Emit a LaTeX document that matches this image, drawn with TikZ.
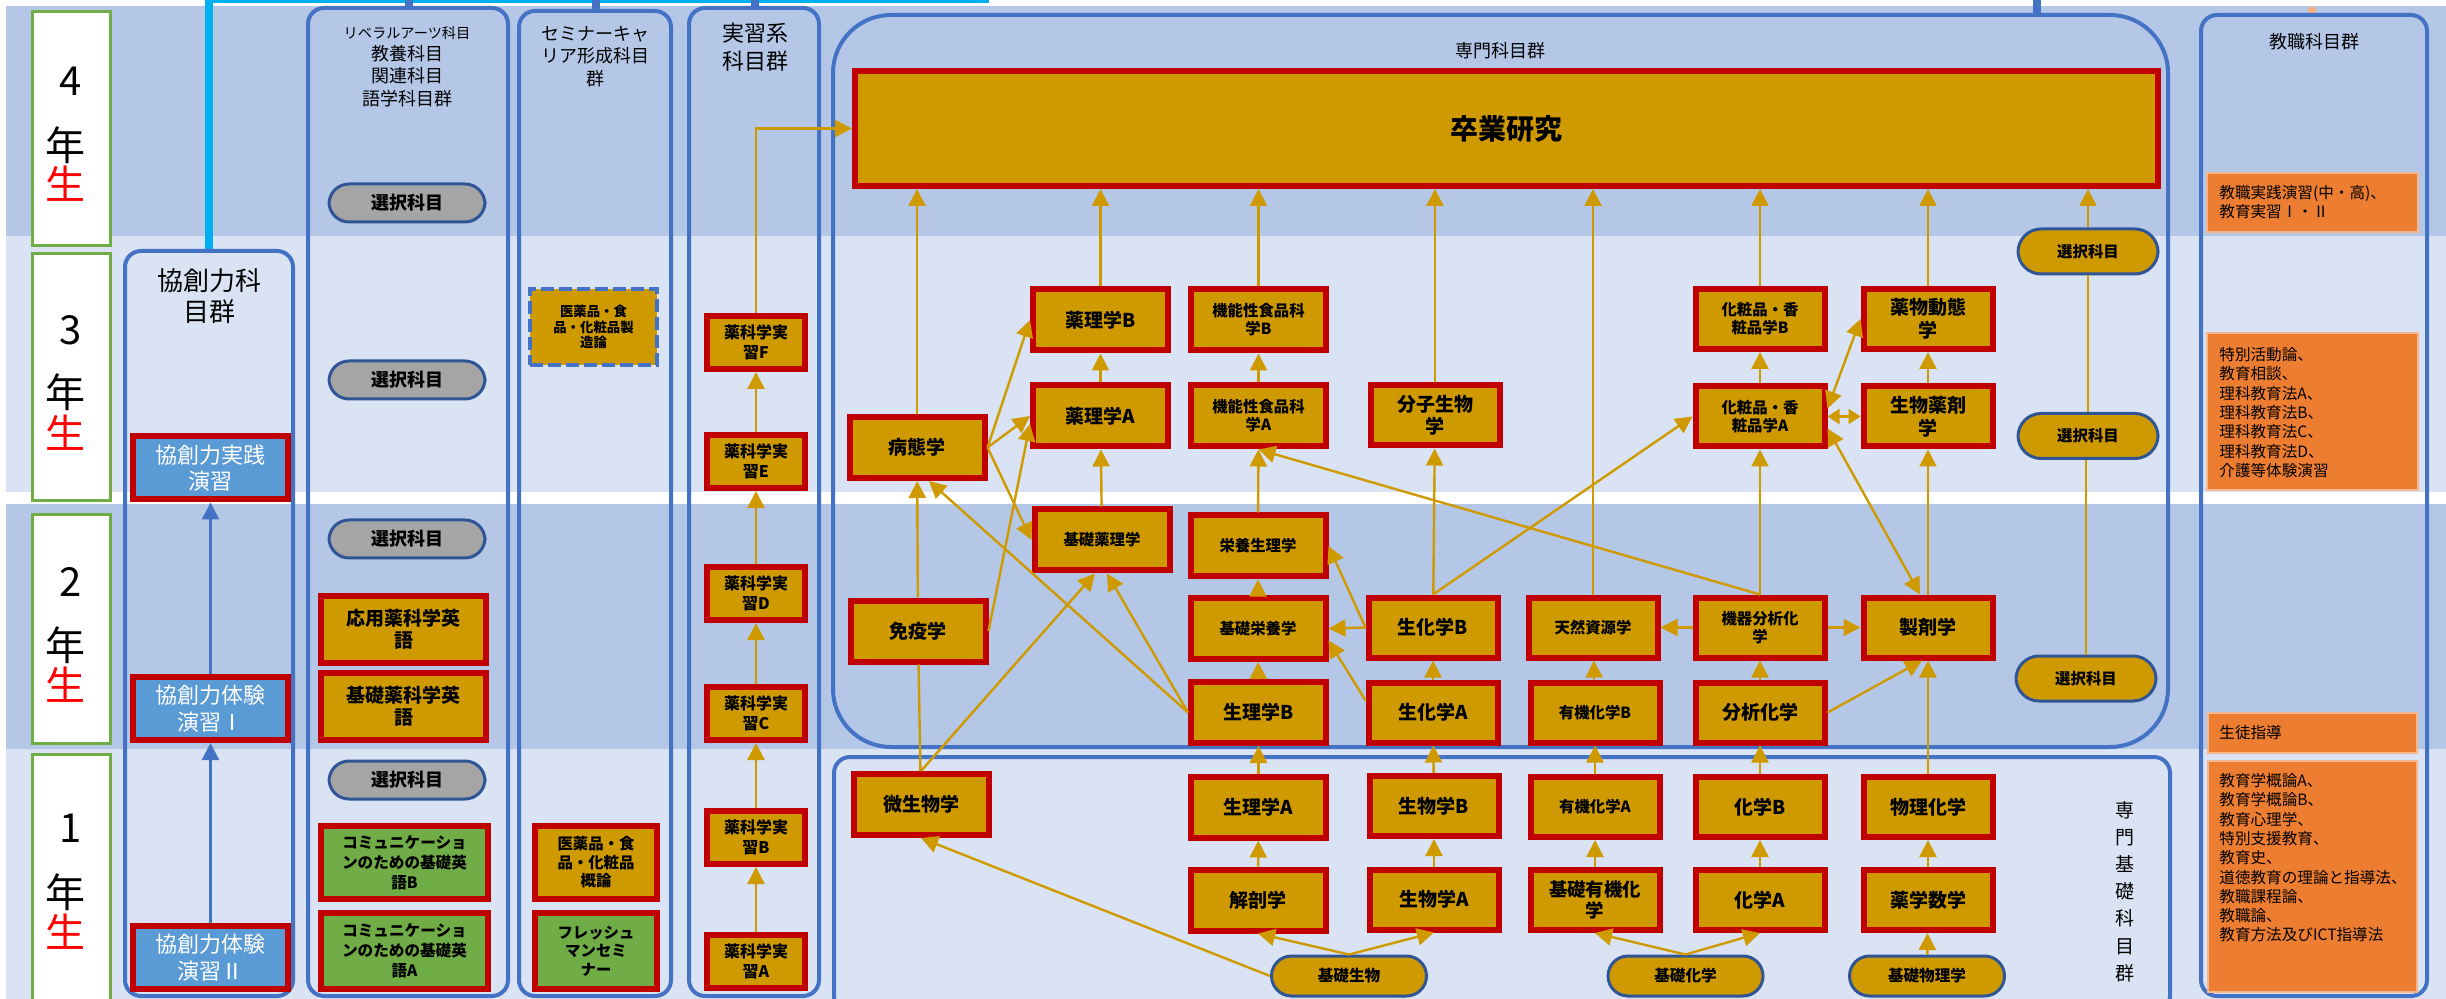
\documentclass[tikz,border=0pt]{standalone}
\usepackage{fontspec}
\setmainfont{Noto Sans CJK JP}
\usetikzlibrary{arrows.meta,calc}
\definecolor{bandD}{RGB}{180,199,231}
\definecolor{bandL}{RGB}{218,227,243}
\definecolor{wakuiro}{RGB}{68,114,196}
\definecolor{kin}{RGB}{207,154,0}
\definecolor{aka}{RGB}{192,0,0}
\definecolor{kon}{RGB}{47,85,151}
\definecolor{hai}{RGB}{165,165,165}
\definecolor{midori}{RGB}{112,173,71}
\definecolor{ao}{RGB}{91,155,213}
\definecolor{daidai}{RGB}{237,125,49}
\definecolor{mizu}{RGB}{0,176,240}
\newcommand{\jfs}[2]{\fontsize{#1}{#2}\selectfont}
\tikzset{
  kamoku/.style={rectangle,fill=kin,draw=aka,line width=3pt,inner sep=0pt,outer sep=1.5pt,align=center,font=\bfseries\jfs{9.5pt}{11pt}},
  kL/.style={kamoku,minimum width=67.5pt,minimum height=30.5pt},
  kR/.style={kamoku,minimum width=64.5pt,minimum height=30pt},
  chiisai/.style={font=\bfseries\jfs{7.7pt}{9pt}},
  jisshu/.style={kamoku,minimum width=49pt,minimum height=26.5pt,font=\bfseries\jfs{8pt}{10pt}},
  kyoso/.style={kamoku,fill=ao,text=white,minimum width=77.5pt,minimum height=31.5pt,font=\jfs{11pt}{13.3pt}},
  sentaku/.style={rectangle,rounded corners=10pt,fill=hai,draw=kon,line width=1.5pt,outer sep=0.75pt,minimum width=78pt,minimum height=19pt,font=\bfseries\jfs{9pt}{10pt}},
  kiso/.style={sentaku,fill=kin,minimum width=77.5pt,minimum height=20pt,font=\bfseries\jfs{7.8pt}{9pt}},
  sentakuK/.style={sentaku,fill=kin,rounded corners=11.5pt,minimum width=70pt,minimum height=22.5pt,font=\bfseries\jfs{7.7pt}{9pt}},
  waku/.style={draw=wakuiro,line width=2pt,rounded corners=8pt},
  midashi/.style={align=center,inner sep=0pt,font=\jfs{9pt}{11.2pt}},
  gakunen/.style={draw=midori,line width=1.5pt,fill=white},
  nen/.style={inner sep=0pt,font=\jfs{20pt}{20pt}},
  ya/.style={draw=kin,line width=1.2pt,-{Triangle[length=8.5pt,width=8.5pt]}},
  yaya/.style={ya,{Triangle[length=8.5pt,width=8.5pt]}-{Triangle[length=8.5pt,width=8.5pt]}},
  yayaS/.style={ya,{Triangle[length=6pt,width=7.5pt]}-{Triangle[length=6pt,width=7.5pt]}},
  sen/.style={draw=kin,line width=1.2pt},
  aoya/.style={draw=wakuiro,line width=1.1pt,-{Triangle[length=8.5pt,width=8.5pt]}},
  kyoshoku/.style={rectangle,fill=daidai,draw=daidai!55!white,line width=0.6pt,inner sep=0pt},
  kyotext/.style={anchor=north west,align=left,inner sep=0pt,font=\jfs{7.8pt}{9.65pt}},
}
\begin{document}
\begin{tikzpicture}[x=0.5pt,y=-0.5pt]
	\useasboundingbox (0,0) rectangle (2446,999);
	\fill[bandD] (6,6) rectangle (2446,236);
	\fill[bandL] (6,236) rectangle (2446,492);
	\fill[bandD] (6,504) rectangle (2446,749);
	\fill[bandL] (6,749) rectangle (2446,999);
	\draw[gakunen] (32,12) rectangle (110,246);
	\draw[gakunen] (32,254) rectangle (110,501);
	\draw[gakunen] (32,515) rectangle (110,743);
	\draw[gakunen] (32,754) rectangle (110,1010);
	\node[nen] (y4) at (71,81) {4};
	\node[nen] (nen4) at (65,145) {年};
	\node[nen,text=red] (sei4) at (65,184) {生};
	\node[nen] (y3) at (71,330) {3};
	\node[nen] (nen3) at (65,392) {年};
	\node[nen,text=red] (sei3) at (65,433) {生};
	\node[nen] (y2) at (71,582) {2};
	\node[nen] (nen2) at (65,645) {年};
	\node[nen,text=red] (sei2) at (65,685) {生};
	\node[nen] (y1) at (71,828) {1};
	\node[nen] (nen1) at (65,892) {年};
	\node[nen,text=red] (sei1) at (65,932) {生};
	\draw[mizu,line width=4pt] (209,0) -- (209,251);
	\draw[mizu,line width=1.5pt] (207,1.5) -- (989,1.5);
	\fill[wakuiro] (405,0) rectangle (413,10);
	\fill[wakuiro] (592,0) rectangle (600,11);
	\fill[wakuiro] (751,0) rectangle (759,8);
	\fill[wakuiro] (2033,0) rectangle (2041,15);
	\fill[daidai!60!white] (2308,7) rectangle (2316,15);
	\draw[waku] (125,251) rectangle (293,996);
	\draw[waku] (308,8) rectangle (508,996);
	\draw[waku] (519,11) rectangle (671,996);
	\draw[waku] (689,8) rectangle (819,996);
	\draw[waku,rounded corners=29pt] (833,15) rectangle (2168,747);
	\draw[waku] (834,757) rectangle (2170,1012);
	\draw[waku] (2201,15) rectangle (2427,996);
	\node[midashi,font=\jfs{13pt}{15.5pt}] (kyosoT) at (209,296) {協創力科\\目群};
	\node[midashi] (laT) at (407,66.5) {{\jfs{7.1pt}{11.2pt}リベラルアーツ科目}\\教養科目\\関連科目\\語学科目群};
	\node[midashi] (semiT) at (595,56.5) {セミナーキャ\\リア形成科目\\群};
	\node[midashi,font=\jfs{11pt}{14pt}] (jisshuT) at (755,47) {実習系\\科目群};
	\node[midashi] (senmonT) at (1500,51) {専門科目群};
	\node[midashi] (kyoshokuT) at (2314,42) {教職科目群};
	\node[midashi,font=\jfs{9.5pt}{13.6pt}] (kisoT) at (2125,891.5) {専\\門\\基\\礎\\科\\目\\群};
	\node[kyoso] (jissen) at (210.5,468) {協創力実践\\演習};
	\node[kyoso] (taiken1) at (210.5,708.5) {協創力体験\\演習Ⅰ};
	\node[kyoso] (taiken2) at (210.5,957.5) {協創力体験\\演習Ⅱ};
	\node[sentaku] (la4) at (407,203) {選択科目};
	\node[sentaku] (la3) at (407,380) {選択科目};
	\node[sentaku] (la2) at (407,539) {選択科目};
	\node[sentaku] (la1) at (407,780) {選択科目};
	\node[kamoku,minimum width=82.5pt,minimum height=33.5pt] (oyoeigo) at (403.5,629.5) {応用薬科学英\\語};
	\node[kamoku,minimum width=82.5pt,minimum height=33.5pt] (kisoeigo) at (403.5,706.5) {基礎薬科学英\\語};
	\node[kamoku,fill=midori,minimum width=83.5pt,minimum height=36.5pt,font=\bfseries\jfs{7.8pt}{10pt}] (komyuB) at (404.5,862.5) {コミュニケーショ\\ンのための基礎英\\語B};
	\node[kamoku,fill=midori,minimum width=83.5pt,minimum height=38pt,font=\bfseries\jfs{7.8pt}{10pt}] (komyuA) at (404.5,951) {コミュニケーショ\\ンのための基礎英\\語A};
	\node[kamoku,draw=wakuiro,line width=2pt,dash pattern=on 6.5pt off 2.5pt,outer sep=1pt,minimum width=63.5pt,minimum height=38pt,font=\bfseries\jfs{6.7pt}{7.8pt}] (seizoron) at (593.5,327) {医薬品・食\\品・化粧品製\\造論};
	\node[kamoku,minimum width=61pt,minimum height=36.5pt,font=\bfseries\jfs{7.7pt}{9.2pt}] (gairon) at (596,862.5) {医薬品・食\\品・化粧品\\概論};
	\node[kamoku,fill=midori,minimum width=61pt,minimum height=38pt,font=\bfseries\jfs{7.7pt}{9.2pt}] (fresh) at (596,951) {フレッシュ\\マンセミ\\ナー};
	\node[jisshu] (jisshuF) at (756,342.5) {薬科学実\\習F};
	\node[jisshu] (jisshuE) at (756,461.5) {薬科学実\\習E};
	\node[jisshu] (jisshuD) at (756,593.5) {薬科学実\\習D};
	\node[jisshu] (jisshuC) at (756,713.5) {薬科学実\\習C};
	\node[jisshu] (jisshuB) at (756,837.5) {薬科学実\\習B};
	\node[jisshu] (jisshuA) at (756,961.5) {薬科学実\\習A};
	\node[kamoku,minimum width=651.5pt,minimum height=57.5pt,font=\bfseries\jfs{14pt}{16pt}] (sotsuken) at (1506.5,128.5) {卒業研究};
	\node[kL] (yakuriB) at (1100.5,320) {薬理学B};
	\node[kL,chiisai] (kinoB) at (1258.5,320) {機能性食品科\\学B};
	\node[kL] (yakuriA) at (1100.5,416) {薬理学A};
	\node[kL,chiisai] (kinoA) at (1258.5,416) {機能性食品科\\学A};
	\node[kL] (byotai) at (917,447.5) {病態学};
	\node[kL,chiisai] (kisoyakuri) at (1102,540) {基礎薬理学};
	\node[kL,chiisai] (eiyoseiri) at (1258,546) {栄養生理学};
	\node[kL,chiisai] (kisoeiyo) at (1258,628.5) {基礎栄養学};
	\node[kL] (meneki) at (918,631) {免疫学};
	\node[kL] (seiriB) at (1258.5,712.5) {生理学B};
	\node[kL] (biseibutsu) at (921,804.5) {微生物学};
	\node[kL] (seiriA) at (1258.5,807) {生理学A};
	\node[kL] (kaibo) at (1258,900) {解剖学};
	\node[kR,font=\bfseries\jfs{9.5pt}{10.8pt}] (bunshi) at (1435,415.5) {分子生物\\学};
	\node[kR,chiisai] (keshoB) at (1760,319) {化粧品・香\\粧品学B};
	\node[kR,chiisai] (keshoA) at (1760,416.5) {化粧品・香\\粧品学A};
	\node[kR,font=\bfseries\jfs{9.5pt}{11.5pt}] (dotai) at (1928,319) {薬物動態\\学};
	\node[kR,font=\bfseries\jfs{9.5pt}{11.5pt}] (yakuzai) at (1928,416.5) {生物薬剤\\学};
	\node[kR] (seikaB) at (1433,627.5) {生化学B};
	\node[kR,chiisai] (tennen) at (1593,627.5) {天然資源学};
	\node[kR,chiisai] (kiki) at (1760,627.5) {機器分析化\\学};
	\node[kR] (seizai) at (1928,627.5) {製剤学};
	\node[kR] (seikaA) at (1433,712.5) {生化学A};
	\node[kR,chiisai] (yukiB) at (1595,712.5) {有機化学B};
	\node[kR] (bunseki) at (1760,712.5) {分析化学};
	\node[kR] (seibutsuB) at (1434,806) {生物学B};
	\node[kR,chiisai] (yukiA) at (1595,807) {有機化学A};
	\node[kR] (kagakuB) at (1760,807) {化学B};
	\node[kR] (butsuri) at (1928,807) {物理化学};
	\node[kR] (seibutsuA) at (1434,899.5) {生物学A};
	\node[kR,font=\bfseries\jfs{9.2pt}{10.8pt}] (kisoyuki) at (1595,900) {基礎有機化\\学};
	\node[kR] (kagakuA) at (1760,900) {化学A};
	\node[kR] (sugaku) at (1928,900) {薬学数学};
	\node[sentakuK] (sen3a) at (2088,251.5) {選択科目};
	\node[sentakuK] (sen3b) at (2088,436) {選択科目};
	\node[sentakuK] (sen2) at (2086,678.5) {選択科目};
	\node[kiso] (kisoseibutsu) at (1349,976) {基礎生物};
	\node[kiso] (kisokagaku) at (1685.5,976) {基礎化学};
	\node[kiso] (kisobutsuri) at (1927,976) {基礎物理学};
	\node[kyoshoku,minimum width=105.5pt,minimum height=29.5pt] (kyo4) at (2312.5,202.5) {};
	\node[kyotext] (kyo4t) at (2219,185) {教職実践演習(中・高)、\\教育実習Ⅰ・Ⅱ};
	\node[kyoshoku,minimum width=105.5pt,minimum height=78.5pt] (kyo3) at (2312.5,411.5) {};
	\node[kyotext] (kyo3t) at (2219,347) {特別活動論、\\教育相談、\\理科教育法A、\\理科教育法B、\\理科教育法C、\\理科教育法D、\\介護等体験演習};
	\node[kyoshoku,minimum width=104.5pt,minimum height=20pt] (kyo2) at (2312.5,733) {};
	\node[kyotext] (kyo2t) at (2219,725) {生徒指導};
	\node[kyoshoku,minimum width=104.5pt,minimum height=115.5pt] (kyo1) at (2312.5,876.5) {};
	\node[kyotext] (kyo1t) at (2219,773) {教育学概論A、\\教育学概論B、\\教育心理学、\\特別支援教育、\\教育史、\\道徳教育の理論と指導法、\\教職課程論、\\教職論、\\教育方法及びICT指導法};
	\draw[aoya] (taiken2) -- (taiken1);
	\draw[aoya] (taiken1) -- (jissen);
	\draw[ya] (jisshuA) -- (jisshuB);
	\draw[ya] (jisshuB) -- (jisshuC);
	\draw[ya] (jisshuC) -- (jisshuD);
	\draw[ya] (jisshuD) -- (jisshuE);
	\draw[ya] (jisshuE) -- (jisshuF);
	\draw[ya] (jisshuF.north) |- (sotsuken.west);
	\draw[ya] (byotai.north) -- (byotai.north |- sotsuken.south);
	\draw[ya] (yakuriB.north) -- (yakuriB.north |- sotsuken.south);
	\draw[ya] (kinoB.north) -- (kinoB.north |- sotsuken.south);
	\draw[ya] (bunshi.north) -- (bunshi.north |- sotsuken.south);
	\draw[ya] (tennen.north) -- (tennen.north |- sotsuken.south);
	\draw[ya] (keshoB.north) -- (keshoB.north |- sotsuken.south);
	\draw[ya] (dotai.north) -- (dotai.north |- sotsuken.south);
	\draw[ya] (sen3a.north) -- (sen3a.north |- sotsuken.south);
	\draw[sen] (sen3b) -- (sen3a);
	\draw[sen] (sen2.north) -- (sen2.north |- sen3b.south);
	\draw[ya] (yakuriA) -- (yakuriB);
	\draw[ya] (kinoA) -- (kinoB);
	\draw[ya] (byotai.east) -- (yakuriB.west);
	\draw[ya] (byotai.east) -- (yakuriA.west);
	\draw[ya] (byotai.east) -- (kisoyakuri.west);
	\draw[ya] (meneki.east) -- ($(yakuriA.west)+(0,8)$);
	\draw[ya] (meneki) -- (byotai);
	\draw[sen] (biseibutsu) -- (meneki);
	\draw[ya] (biseibutsu.north) -- ($(kisoyakuri.south)+(-7,0)$);
	\draw[ya] (seiriB.west) -- ($(kisoyakuri.south)+(5,0)$);
	\draw[ya] (seiriB.west) -- ($(byotai.south)+(12,0)$);
	\draw[ya] (kisoyakuri) -- (yakuriA);
	\draw[ya] (eiyoseiri) -- (kinoA);
	\draw[ya] (kisoeiyo) -- (eiyoseiri);
	\draw[ya] (seiriB) -- (kisoeiyo);
	\draw[ya] (seiriA) -- (seiriB);
	\draw[ya] (kaibo) -- (seiriA);
	\draw[ya] (kisoseibutsu.north) -- (kaibo.south);
	\draw[ya] (kisoseibutsu.west) -- (biseibutsu.south);
	\draw[ya] (kisoseibutsu.north) -- (seibutsuA.south);
	\draw[ya] (seibutsuA) -- (seibutsuB);
	\draw[ya] (seibutsuB) -- (seikaA);
	\draw[ya] (seikaA) -- (seikaB);
	\draw[ya] (seikaB) -- (bunshi);
	\draw[ya] (seikaB.north) -- (keshoA.west);
	\draw[ya] (seikaB.west) -- (kisoeiyo.east);
	\draw[ya] (seikaB.west) -- (eiyoseiri.east);
	\draw[ya] ($(seikaA.west)+(0,-12)$) -- ($(kisoeiyo.east)+(0,12)$);
	\draw[ya] (kiki.north) -- (kinoA.south);
	\draw[ya] (kiki) -- (keshoA);
	\draw[ya] (keshoA) -- (keshoB);
	\draw[ya] (kiki) -- (tennen);
	\draw[ya] (kiki) -- (seizai);
	\draw[ya] (yukiB) -- (tennen);
	\draw[ya] (yukiA) -- (yukiB);
	\draw[ya] (kisoyuki) -- (yukiA);
	\draw[ya] (kisokagaku.north) -- (kisoyuki.south);
	\draw[ya] (kisokagaku.north) -- (kagakuA.south);
	\draw[ya] (kagakuA) -- (kagakuB);
	\draw[ya] (kagakuB) -- (bunseki);
	\draw[ya] (bunseki) -- (kiki);
	\draw[ya] (bunseki.east) -- ($(seizai.south)+(-6,0)$);
	\draw[ya] (butsuri) -- (seizai);
	\draw[ya] (sugaku) -- (butsuri);
	\draw[ya] (kisobutsuri) -- (sugaku);
	\draw[ya] (seizai) -- (yakuzai);
	\draw[ya] (yakuzai) -- (dotai);
	\draw[yayaS] (keshoA) -- (yakuzai);
	\draw[yaya] ($(keshoA.east)+(0,-8)$) -- (dotai.west);
	\draw[yaya] ($(keshoA.east)+(0,12)$) -- ($(seizai.north)+(-8,0)$);
\end{tikzpicture}
\end{document}
